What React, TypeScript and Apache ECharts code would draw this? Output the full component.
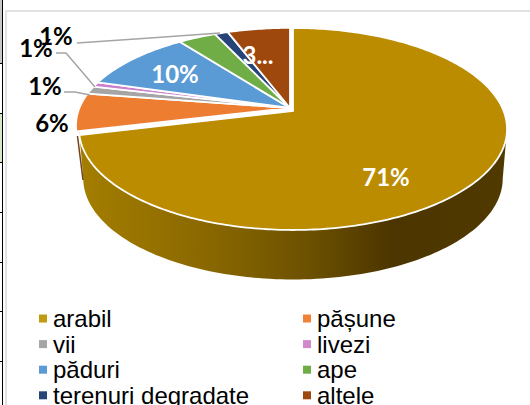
import React, { useEffect, useRef } from "react";
import * as echarts from "echarts";

const categories = ["arabil", "pășune", "vii", "livezi", "păduri", "ape", "terenuri degradate", "altele"];
const values = [71.2, 6.3, 1.3, 0.8, 10.2, 3.4, 1.2, 5.6];
const colors = ["#bb8c00", "#ed7d31", "#a5a5a5", "#cc7fcb", "#5b9bd5", "#70ad47", "#264478", "#9e480e"];
const legendColors = ["#c09a10", "#f08238", "#a5a5a5", "#d088cc", "#5b9bd5", "#70ad47", "#264478", "#9e480e"];
const labelTexts = ["71%", "6%", "1%", "1%", "10%", "", "1%", "3..."];

const P = 0.178, R = 210.6, K = 97.8;
const total = values.reduce((a, b) => a + b, 0);

function project(a: number, cx: number, cy: number, rScale: number, kScale: number): number[] {
  const x = Math.sin(a), y = -Math.cos(a);
  const w = 1 - P * y;
  return [cx + (R * rScale * x) / w, cy + (K * kScale * y) / w];
}

function sliceRender(index: number) {
  const before = values.slice(0, index).reduce((a, b) => a + b, 0);
  return (_params: any, api: any) => {
    const v = api.value(0);
    const a0 = (before / total) * Math.PI * 2;
    const a1 = ((before + v) / total) * Math.PI * 2;
    const main = index === 0;
    const cx = main ? 293 : 290;
    const cy = main ? 111 : 108;
    const kS = main ? 1 : 0.965;
    const pts: number[][] = [[cx, cy]];
    const n = Math.max(2, Math.ceil((a1 - a0) * 60));
    for (let i = 0; i <= n; i++) pts.push(project(a0 + ((a1 - a0) * i) / n, cx, cy, 1, kS));
    const children: any[] = [];
    if (main) {
      const aR = Math.PI - Math.acos(P);
      const aL = Math.PI + Math.acos(P);
      const top: number[][] = [];
      const bottom: number[][] = [];
      for (let i = 0; i <= 120; i++) {
        const a = aR + ((aL - aR) * i) / 120;
        top.push(project(a, cx, cy, 1, 1));
        bottom.push(project(a, cx, cy + 49.5, 0.98, 1));
      }
      children.push({
        type: "polygon",
        shape: { points: top.concat(bottom.reverse()) },
        style: {
          fill: {
            type: "linear", x: 0, y: 0, x2: 1, y2: 0,
            colorStops: [
              { offset: 0, color: "#a47e00" },
              { offset: 0.3, color: "#8a6800" },
              { offset: 0.55, color: "#6a4f00" },
              { offset: 0.73, color: "#4c3500" },
              { offset: 1, color: "#503a00" },
            ],
          },
        },
      });
      children.push({
        type: "line",
        shape: { x1: 77.5, y1: 136, x2: 83, y2: 180 },
        style: { stroke: "#74401a", lineWidth: 1.5 },
      });
    }
    children.push({
      type: "polygon",
      shape: { points: pts },
      style: { fill: colors[index], stroke: "#ffffff", lineWidth: 1.8, lineJoin: "miter" },
    });
    return { type: "group", children };
  };
}

const labelFont = { fontFamily: "Lato", fontWeight: "bold" as const, fontSize: 24 };
const label = (i: number, x: number, y: number, fill: string) => ({
  type: "text", x, y, z: 50,
  style: { text: labelTexts[i], fill, ...labelFont, textAlign: "center", textVerticalAlign: "middle" },
});
const leader = (points: number[][]) => ({
  type: "polyline", z: 40,
  shape: { points },
  style: { stroke: "#a5a5a5", lineWidth: 1.5, fill: "none" },
});
const rect = (x: number, y: number, width: number, height: number, fill: string) => ({
  type: "rect", z: 1, shape: { x, y, width, height }, style: { fill },
});

const legendBase = {
  orient: "vertical" as const,
  top: 306.5,
  height: 130,
  icon: "rect",
  itemWidth: 8,
  itemHeight: 8,
  itemGap: 1.6,
  padding: 0,
  textStyle: { fontFamily: "Liberation Sans", fontSize: 24, color: "#000", lineHeight: 24, padding: [0, 0, 0, 1] },
  selectedMode: false,
};

export default function App() {
  const ref = useRef<HTMLDivElement>(null);
  useEffect(() => {
    document.body.style.margin = "0";
    const chart = echarts.init(ref.current!, null, { renderer: "svg" });
    chart.setOption({
      animation: false,
      backgroundColor: "#ffffff",
      legend: [
        { ...legendBase, left: 39, data: categories.filter((_, i) => i % 2 === 0) },
        { ...legendBase, left: 303, data: categories.filter((_, i) => i % 2 === 1) },
      ],
      series: categories.map((name, i) => ({
        type: "custom",
        name,
        coordinateSystem: "none",
        clip: false,
        itemStyle: { color: legendColors[i] },
        data: [[values[i]]],
        renderItem: sliceRender(i),
      })),
      graphic: [
        rect(0, 0, 2, 63, "#c8c8c8"),
        rect(0, 113, 2, 50, "#d5e8c8"),
        rect(2, 0, 1, 405, "#000000"),
        rect(0, 63, 3, 1, "#000000"),
        rect(0, 113, 3, 1, "#000000"),
        rect(0, 162, 3, 1, "#000000"),
        rect(0, 212, 3, 1, "#000000"),
        rect(0, 262, 3, 1, "#000000"),
        rect(0, 311, 3, 1, "#000000"),
        rect(0, 361, 3, 1, "#000000"),
        rect(5, 10, 525, 2, "#e2e2e2"),
        rect(5, 10, 2, 395, "#e2e2e2"),
        leader([[77, 43], [150, 38], [220, 33]]),
        leader([[56, 53], [66, 53], [95, 87]]),
        leader([[64, 92], [75, 92], [90, 95]]),
        label(6, 56, 35, "#000000"),
        label(3, 36, 47, "#000000"),
        label(2, 45, 85, "#000000"),
        label(1, 52, 122, "#000000"),
        label(4, 175, 73, "#ffffff"),
        label(7, 258, 54, "#ffffff"),
        label(0, 386, 176, "#ffffff"),
      ],
    });
    return () => chart.dispose();
  }, []);
  return <div ref={ref} style={{ width: 530, height: 405, overflow: "hidden" }} />;
}
